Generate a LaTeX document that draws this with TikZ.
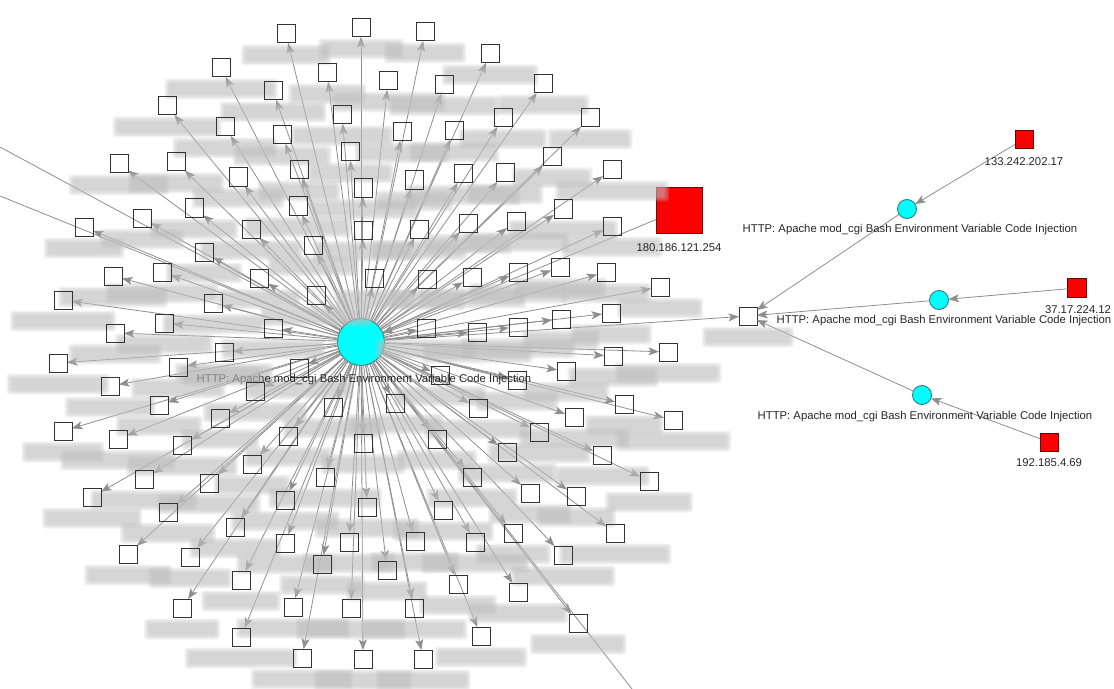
\documentclass[tikz,border=0pt]{standalone}
\usepackage{fontspec}
\setmainfont{Liberation Sans}
\usetikzlibrary{arrows.meta}
\definecolor{edgegray}{HTML}{8E8E8E}
\definecolor{sqborder}{HTML}{333333}
\definecolor{cyanfill}{HTML}{00FFFF}
\definecolor{cyanborder}{HTML}{2E7D7D}
\definecolor{redfill}{HTML}{FF0000}
\definecolor{redborder}{HTML}{6A0000}
% hosts reached by the central alert (pixel positions)
\def\sqlist{221/68,167/106,225/127,119/164,176/162,238/177,194/208,142/218,84/227,204/252,
162/272,113/276,63/300,213/303,164/323,115/333,286/34,361/28,425/32,327/73,
388/81,444/85,273/91,342/115,282/135,402/132,454/131,350/152,299/170,414/180,
463/174,363/188,298/206,251/229,363/230,419/229,313/245,468/223,259/278,374/278,
427/279,316/295,472/277,273/328,426/328,490/54,543/84,503/118,590/118,552/157,
505/173,612/170,563/209,516/221,612/226,518/272,560/267,606/272,660/287,611/313,
561/319,518/327,477/332,668/352,58/363,224/352,178/367,110/386,159/405,63/431,
220/418,118/439,182/445,144/479,209/483,92/497,168/512,235/527,128/554,190/557,
241/580,182/608,241/637,299/368,255/391,333/407,395/403,440/375,288/436,363/443,
437/439,252/464,325/477,285/500,367/507,443/510,285/543,349/542,415/541,322/564,
387/570,458/584,293/607,351/608,414/608,302/658,363/659,423/659,613/356,566/371,
517/380,624/404,673/420,574/417,478/408,539/432,507/452,602/455,472/477,649/481,
530/493,576/496,513/533,615/533,475/542,563/555,518/592,578/623,481/636}
% soft grey bar standing in for an obscured host label: x, y, width
\newcommand\fuzzbar[3]{%
  \foreach \e in {5,3.5,2,0.5}
    \fill[black!26, opacity=0.22, rounded corners=3bp]
      (#1-#3/2-\e,#2-5.5-\e) rectangle (#1+#3/2+\e,#2+5.5+\e);}
\begin{document}
\begin{tikzpicture}[x=1bp,y=-1bp,
  lbl/.style={font=\fontsize{11.3bp}{13bp}\selectfont, text=black!85, inner sep=0},
  edge/.style={draw=edgegray, line width=0.8bp,
    -{Stealth[length=10.5bp,width=8bp,inset=2.5bp,fill=edgegray]}},
  plain/.style={draw=edgegray, line width=0.8bp},
  sq/.style={draw=sqborder, fill=white, line width=1bp, minimum size=18bp,
    inner sep=0, outer sep=0},
  alert/.style={circle, draw=cyanborder, fill=cyanfill, line width=0.9bp,
    inner sep=0, outer sep=0},
  attacker/.style={draw=redborder, fill=redfill, line width=0.8bp,
    inner sep=0, outer sep=0}]
\useasboundingbox (0,0) rectangle (1114,689);

% central alert and its targets
\node[alert, minimum size=47bp] (c) at (361,342) {};
\foreach \x/\y [count=\i] in \sqlist {\node[sq] (s\i) at (\x,\y) {};}
\coordinate (off1) at (0,147);
\coordinate (off2) at (0,196);
\coordinate (off3) at (632,689);

% attacker of the central alert
\node[attacker, minimum size=46bp] (r0) at (679,210) {};

% right-hand cluster
\node[sq] (hub) at (748,316) {};
\node[alert, minimum size=19bp] (a1) at (907,209) {};
\node[alert, minimum size=19bp] (a2) at (939,300) {};
\node[alert, minimum size=19bp] (a3) at (922,395) {};
\node[attacker, minimum size=18bp] (r1) at (1024,139) {};
\node[attacker, minimum size=19bp] (r2) at (1077,288) {};
\node[attacker, minimum size=18bp] (r3) at (1049,442) {};

% connectors
\foreach \i in {1,...,129} {\draw[edge] (c) -- (s\i);}
\draw[plain] (c) -- (off1);
\draw[plain] (c) -- (off2);
\draw[plain] (c) -- (off3);
\draw[edge] (r0) -- (c);
\draw[edge] (c) -- (hub);
\draw[edge] (r1) -- (a1);
\draw[edge] (r2) -- (a2);
\draw[edge] (r3) -- (a3);
\draw[edge] (a1) -- (hub);
\draw[edge] (a2) -- (hub);
\draw[edge] (a3) -- (hub);

% obscured host labels
\foreach \x/\y [count=\i] in \sqlist {
  \pgfmathsetmacro\w{66+mod(\i*37,41)}
  \fuzzbar{\x}{\y+21}{\w}
}
\fuzzbar{748}{337}{82}

% alert label under the central circle, its start hidden by a host label
\node[lbl] (cl) at (364,380) {HTTP: Apache mod\_cgi Bash Environment Variable Code Injection};
\fuzzbar{222}{376}{72}

% crisp outlines of the host boxes
\foreach \i in {1,...,129} {\draw[sqborder, line width=1bp] (s\i.south west) rectangle (s\i.north east);}

% labels of the right-hand cluster
\node[lbl] (r0l) at (679,248) {180.186.121.254};
\node[lbl] (r1l) at (1024,162) {133.242.202.17};
\node[lbl] (r2l) at (1078,310) {37.17.224.12};
\node[lbl] (r3l) at (1049,463) {192.185.4.69};
\node[lbl] (a1l) at (910,230) {HTTP: Apache mod\_cgi Bash Environment Variable Code Injection};
\node[lbl] (a2l) at (944,321) {HTTP: Apache mod\_cgi Bash Environment Variable Code Injection};
\node[lbl] (a3l) at (925,417) {HTTP: Apache mod\_cgi Bash Environment Variable Code Injection};
\end{tikzpicture}
\end{document}
